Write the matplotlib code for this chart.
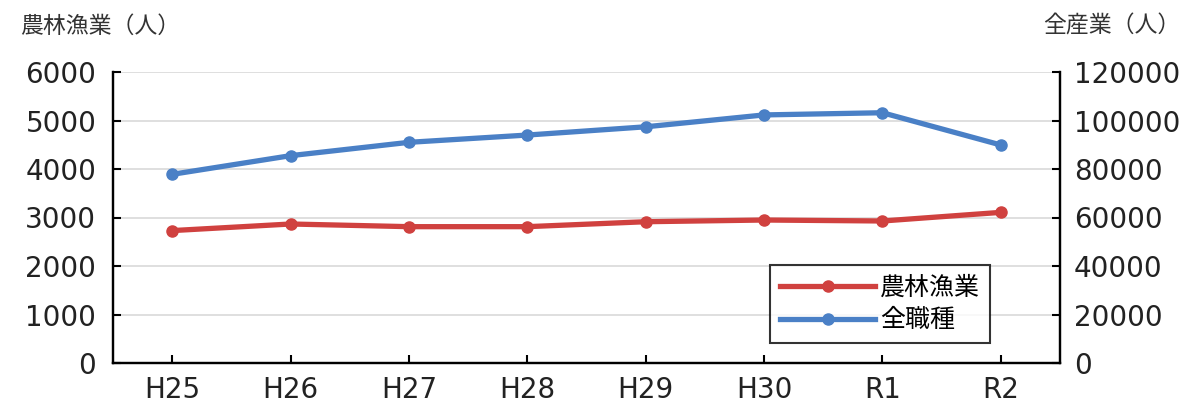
import matplotlib
matplotlib.use("Agg")
import matplotlib.pyplot as plt

plt.rcParams['font.family'] = ['Noto Sans CJK JP', 'DejaVu Sans']

categories = ["H25", "H26", "H27", "H28", "H29", "H30", "R1", "R2"]
agri = [2730, 2866, 2811, 2811, 2913, 2948, 2928, 3106]
all_jobs = [77800, 85500, 91000, 94000, 97400, 102300, 103200, 89900]
left_ticks = [0, 1000, 2000, 3000, 4000, 5000, 6000]
right_ticks = [0, 20000, 40000, 60000, 80000, 100000, 120000]

red = "#d0413f"
blue = "#4a80c6"

fig = plt.figure(figsize=(12.02, 4.07), dpi=100)
ax = fig.add_axes([113/1202, 1-363/407, (1060-113)/1202, (363-72)/407])
ax2 = ax.twinx()

x = list(range(len(categories)))
l1, = ax.plot(x, agri, color=red, lw=3.8, marker='o', ms=8, label="農林漁業", zorder=3)
l2, = ax2.plot(x, all_jobs, color=blue, lw=3.8, marker='o', ms=8, label="全職種", zorder=3)

ax.set_xlim(-0.5, 7.5)
ax.set_ylim(0, 6000)
ax2.set_ylim(0, 120000)
ax.set_yticks(left_ticks)
ax2.set_yticks(right_ticks)
ax.set_xticks(x)
ax.set_xticklabels(categories)
ax.grid(axis='y', color='#d9d9d9', lw=1.2)
ax.set_axisbelow(True)

for a in (ax, ax2):
    a.spines['top'].set_visible(False)
    for s in ('left', 'right', 'bottom'):
        a.spines[s].set_linewidth(1.6)
        a.spines[s].set_color('black')
ax.tick_params(axis='both', direction='in', length=6, width=1.5, colors='black')
ax.tick_params(axis='x', pad=9)
ax.tick_params(axis='y', pad=12)
ax2.tick_params(axis='y', direction='in', length=6, width=1.5, pad=10)
for lab in ax.get_xticklabels() + ax.get_yticklabels() + ax2.get_yticklabels():
    lab.set_color('#222222')
    lab.set_family('DejaVu Sans')
    lab.set_fontsize(20)

fig.text(20/1202, 1-26/407, "農林漁業（人）", fontsize=16.5, va='center', ha='left', color='#333333')
fig.text(1180/1202, 1-26/407, "全産業（人）", fontsize=16.5, va='center', ha='right', color='#333333')

leg = ax.legend(handles=[l1, l2], loc='upper left', bbox_to_anchor=((770-113)/947, (363-265)/291),
                fontsize=18, frameon=True, fancybox=False, edgecolor='black',
                handlelength=3.8, borderpad=0.4, labelspacing=0.25, handletextpad=0.2,
                borderaxespad=0)
leg.get_frame().set_linewidth(1.5)
leg.set_zorder(5)

fig.savefig("out.png", dpi=100)
